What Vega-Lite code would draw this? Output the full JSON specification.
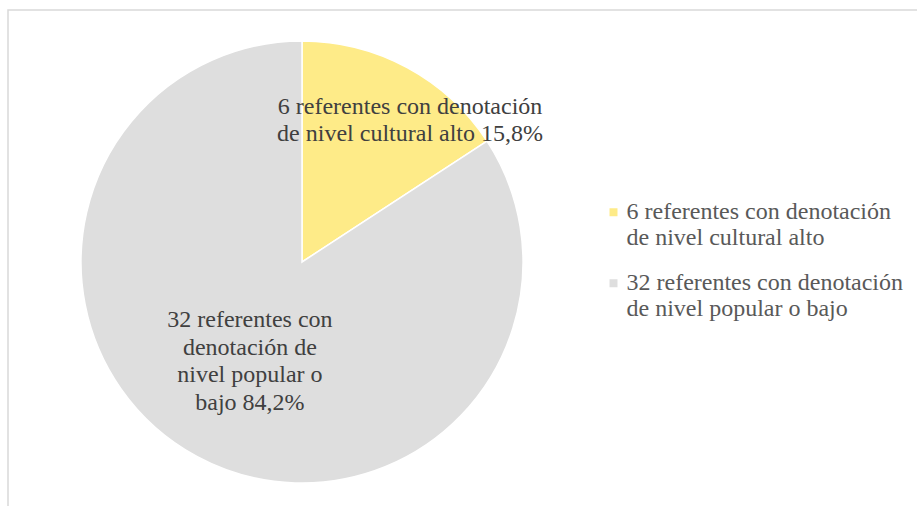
{
  "$schema": "https://vega.github.io/schema/vega-lite/v6.json",
  "width": 915,
  "height": 502,
  "autosize": "none",
  "padding": {"left": 8, "top": 10, "right": -6, "bottom": -6},
  "background": "white",
  "view": {"stroke": "#D9D9D9", "strokeWidth": 1.5},
  "config": {
    "view": {"stroke": "#D9D9D9", "strokeWidth": 1.5},
    "font": "Liberation Serif"
  },
  "data": {
    "values": [
      {"idx": 1, "categoria": "6 referentes con denotación de nivel cultural alto", "count": 6, "label": "6 referentes con denotación\nde nivel cultural alto 15,8%"},
      {"idx": 2, "categoria": "32 referentes con denotación de nivel popular o bajo", "count": 32, "label": "32 referentes con\ndenotación de\nnivel popular o\nbajo 84,2%"}
    ]
  },
  "encoding": {
    "theta": {"field": "count", "type": "quantitative", "stack": true},
    "order": {"field": "idx", "type": "ordinal"}
  },
  "layer": [
    {
      "mark": {"type": "arc", "x": 294, "y": 252, "outerRadius": 221, "stroke": "white", "strokeWidth": 1.5},
      "encoding": {
        "color": {
          "field": "categoria",
          "type": "nominal",
          "scale": {
            "domain": ["6 referentes con denotación de nivel cultural alto", "32 referentes con denotación de nivel popular o bajo"],
            "range": ["#FEEB88", "#DEDEDE"]
          },
          "legend": {
            "orient": "none",
            "legendX": 593.5,
            "legendY": 190.25,
            "title": null,
            "symbolType": "square",
            "symbolSize": 64,
            "symbolStrokeWidth": 0,
            "labelFontSize": 24,
            "labelFont": "Liberation Serif",
            "labelColor": "#595959",
            "labelLimit": 600,
            "labelOffset": 1,
            "rowPadding": 21,
            "padding": 0,
            "labelExpr": "datum.label == '6 referentes con denotación de nivel cultural alto' ? ['6 referentes con denotación', 'de nivel cultural alto'] : ['32 referentes con denotación', 'de nivel popular o bajo']",
            "encode": {"labels": {"update": {"lineHeight": {"value": 27.5}}}}
          }
        }
      }
    },
    {
      "mark": {"type": "text", "x": 294, "y": 252, "radius": 189, "thetaOffset": 0.1126, "fontSize": 24, "font": "Liberation Serif", "color": "#404040", "lineBreak": "\n", "lineHeight": 27.5, "align": "center", "baseline": "middle"},
      "encoding": {
        "text": {"condition": {"test": "datum.idx == 1", "field": "label"}, "value": ""}
      }
    },
    {
      "mark": {"type": "text", "x": 294, "y": 252, "radius": 78, "thetaOffset": 0.2349, "fontSize": 24, "font": "Liberation Serif", "color": "#404040", "lineBreak": "\n", "lineHeight": 27.5, "align": "center", "baseline": "middle"},
      "encoding": {
        "text": {"condition": {"test": "datum.idx == 2", "field": "label"}, "value": ""}
      }
    }
  ]
}
